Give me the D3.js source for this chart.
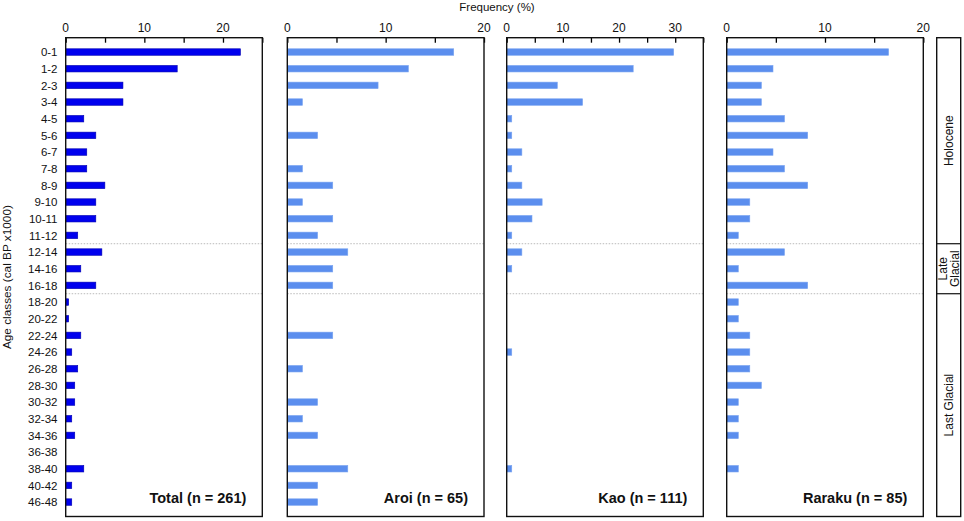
<!DOCTYPE html>
<html>
<head>
<meta charset="utf-8">
<script src="https://cdn.jsdelivr.net/npm/d3@7"></script>
<style>
  html, body { margin: 0; padding: 0; background: #fff; }
  svg { display: block; font-family: Arial, "Liberation Sans", sans-serif; }
</style>
</head>
<body>
<svg id="chart" width="964" height="521"></svg>
<script>
// ---- Data ----
const ageClasses = ["0-1","1-2","2-3","3-4","4-5","5-6","6-7","7-8","8-9","9-10","10-11","11-12",
  "12-14","14-16","16-18","18-20","20-22","22-24","24-26","26-28","28-30","30-32","32-34","34-36",
  "36-38","38-40","40-42","46-48"];

const totalValues  = [22.22,14.18,7.28,7.28,2.30,3.83,2.68,2.68,4.98,3.83,3.83,1.53,
  4.60,1.92,3.83,0.38,0.38,1.92,0.77,1.53,1.15,1.15,0.77,1.15,0,2.30,0.77,0.77];
const aroiValues   = [16.92,12.31,9.23,1.54,0,3.08,0,1.54,4.62,1.54,4.62,3.08,
  6.15,4.62,4.62,0,0,4.62,0,1.54,0,3.08,1.54,3.08,0,6.15,3.08,3.08];
const kaoValues    = [29.73,22.52,9.01,13.51,0.90,0.90,2.70,0.90,2.70,6.31,4.50,0.90,
  2.70,0.90,0,0,0,0,0.90,0,0,0,0,0,0,0.90,0,0];
const rarakuValues = [16.47,4.71,3.53,3.53,5.88,8.24,4.71,5.88,8.24,2.35,2.35,1.18,
  5.88,1.18,8.24,1.18,1.18,2.35,2.35,2.35,3.53,1.18,1.18,1.18,0,1.18,0,0];

const panelNames = ["Total (n = 261)","Aroi (n = 65)","Kao (n = 111)","Raraku (n = 85)"];
const panelMax   = [25, 20, 35, 20];
const tickLabels = [[0,10,20],[0,10,20],[0,10,20,30],[0,10,20]];
const periods    = [{name:["Holocene"], from:"0-1", to:"11-12"},
                    {name:["Late","Glacial"], from:"12-14", to:"16-18"},
                    {name:["Last Glacial"], from:"18-20", to:"46-48"}];
const xTitle = "Frequency (%)";
const yTitle = "Age classes (cal BP x1000)";

// ---- Layout ----
const svg = d3.select("#chart");
const topY = 37.7, bottomY = 516.5;
const panels = [
  {x0: 65.7, x1: 262.3, values: totalValues, color: "#0000ee", stroke: "#0000b0"},
  {x0: 287.3, x1: 484, values: aroiValues, color: "#5b8eee", stroke: "#7aa4f0"},
  {x0: 506.7, x1: 703.3, values: kaoValues, color: "#5b8eee", stroke: "#7aa4f0"},
  {x0: 726.7, x1: 923.3, values: rarakuValues, color: "#5b8eee", stroke: "#7aa4f0"}
];

const y = d3.scaleBand().domain(ageClasses).range([43.7, 510.4]).paddingInner(0.61).paddingOuter(0.305);
const step = y.step();

panels.forEach((p, i) => {
  const x = d3.scaleLinear().domain([0, panelMax[i]]).range([p.x0, p.x1]);
  const g = svg.append("g");

  // dotted separators
  ["11-12","16-18"].forEach(c => {
    const yy = y(c) + y.bandwidth()/2 + step/2;
    g.append("line").attr("x1", p.x0).attr("x2", p.x1).attr("y1", yy).attr("y2", yy)
      .attr("stroke", "#aaa").attr("stroke-width", 0.8).attr("stroke-dasharray", "1.5,1.5");
  });

  // bars
  g.selectAll("rect.bar").data(ageClasses.map((c, j) => ({c, v: p.values[j]})).filter(d => d.v > 0))
    .enter().append("rect").attr("class", "bar")
    .attr("x", x(0)).attr("y", d => y(d.c))
    .attr("width", d => x(d.v) - x(0)).attr("height", y.bandwidth())
    .attr("fill", p.color).attr("stroke", p.stroke).attr("stroke-width", 0.6);

  // ticks (inward, every 5)
  const axis = d3.axisTop(x).tickValues(d3.range(0, panelMax[i] + 0.01, 5))
    .tickSize(-5).tickFormat(() => "");
  const ag = svg.append("g").attr("transform", `translate(0,${topY})`).call(axis);
  ag.select(".domain").remove();
  ag.selectAll("line").attr("stroke", "#000").attr("stroke-width", 1.3);

  // tick labels
  svg.append("g").selectAll("text").data(tickLabels[i]).enter().append("text")
    .attr("x", d => x(d)).attr("y", 32).attr("text-anchor", "middle")
    .attr("font-size", 12).attr("fill", "#111").text(d => d);

  // frame
  svg.append("rect").attr("x", p.x0).attr("y", topY).attr("width", p.x1 - p.x0).attr("height", bottomY - topY)
    .attr("fill", "none").attr("stroke", "#111").attr("stroke-width", 1.4);

  // panel label
  svg.append("text").attr("x", p.x1 - 16).attr("y", 503).attr("text-anchor", "end")
    .attr("font-size", 14.5).attr("font-weight", "bold").attr("fill", "#111").text(panelNames[i]);
});

// category labels
svg.append("g").selectAll("text").data(ageClasses).enter().append("text")
  .attr("x", 57.5).attr("y", d => y(d) + y.bandwidth()/2).attr("dy", "0.36em")
  .attr("text-anchor", "end").attr("font-size", 11.5).attr("fill", "#111").text(d => d);

// titles
svg.append("text").attr("x", 497).attr("y", 11).attr("text-anchor", "middle")
  .attr("font-size", 11.5).attr("fill", "#111").text(xTitle);
svg.append("text").attr("transform", `translate(11,${(topY + bottomY)/2}) rotate(-90)`)
  .attr("text-anchor", "middle").attr("font-size", 11.8).attr("fill", "#111").text(yTitle);

// period column
const px0 = 936.7, px1 = 960.7;
const bounds = periods.map((pd, k) => {
  const y0 = k === 0 ? topY : y(pd.from) + y.bandwidth()/2 - step/2;
  const y1 = k === periods.length - 1 ? bottomY : y(pd.to) + y.bandwidth()/2 + step/2;
  return {pd, y0, y1};
});
svg.append("rect").attr("x", px0).attr("y", topY).attr("width", px1 - px0).attr("height", bottomY - topY)
  .attr("fill", "none").attr("stroke", "#111").attr("stroke-width", 1.4);
bounds.forEach((b, k) => {
  if (k > 0) svg.append("line").attr("x1", px0).attr("x2", px1).attr("y1", b.y0).attr("y2", b.y0)
    .attr("stroke", "#111").attr("stroke-width", 1.2);
  const cx = (px0 + px1) / 2, cy = (b.y0 + b.y1) / 2;
  const t = svg.append("text").attr("transform", `translate(${cx},${cy}) rotate(-90)`)
    .attr("text-anchor", "middle").attr("font-size", 12).attr("fill", "#111");
  const n = b.pd.name.length;
  b.pd.name.forEach((line, li) => {
    t.append("tspan").attr("x", 0).attr("y", (li - (n - 1) / 2) * 11.5).attr("dy", "0.35em").text(line);
  });
});
</script>
</body>
</html>
